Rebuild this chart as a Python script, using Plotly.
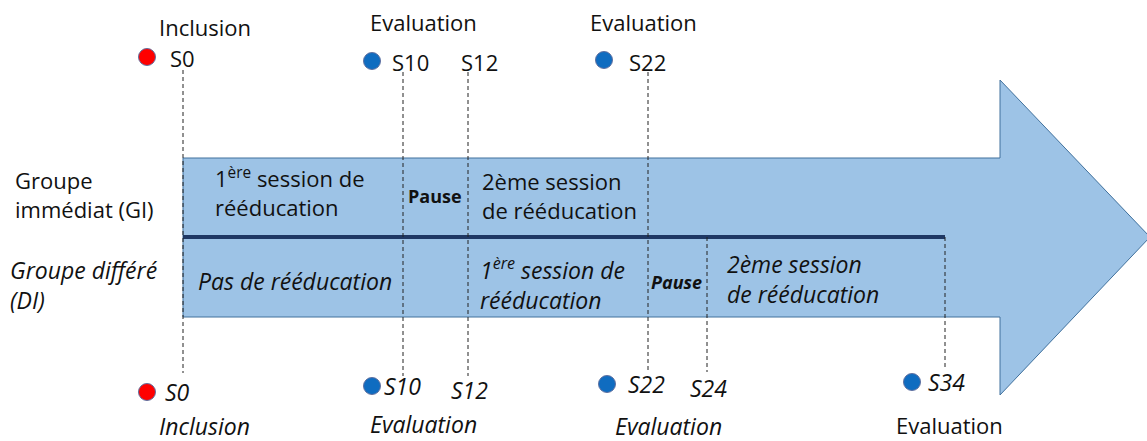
import plotly.graph_objects as go

# ---- data (diagram content) ----
weeks = ["S0", "S10", "S12", "S22", "S24", "S34"]
gi_weeks = ["S0", "S10", "S12", "S22"]
di_weeks = ["S0", "S10", "S12", "S22", "S24", "S34"]
top_events = ["Inclusion", "Evaluation", "Evaluation"]
top_marker_weeks = ["S0", "S10", "S22"]
bottom_marker_weeks = ["S0", "S10", "S22", "S34"]
bottom_events = ["Inclusion", "Evaluation", "Evaluation", "Evaluation"]
group_labels = ["Groupe<br>immédiat (GI)", "<i>Groupe différé<br>(DI)</i>"]

# ---- layout positions (pixel-space diagram) ----
week_x = {"S0": 183, "S10": 403, "S12": 468, "S22": 648, "S24": 707, "S34": 945}
FONT = "Open Sans"
FS = 22
FI = 23
BLUE = "#9DC3E6"
EDGE = "#41719C"
NAVY = "#1F3864"
MBLUE = "#0F6CC0"
RED = "#FF0000"

fig = go.Figure()
shapes = []

# arrow
body_top, body_bot, mid = 158, 317, 237
head_x, head_top, head_bot, tip_x = 1000, 80, 395, 1150
path = (f"M 183 {body_top} L {head_x} {body_top} L {head_x} {head_top} L {tip_x} {mid} "
        f"L {head_x} {head_bot} L {head_x} {body_bot} L 183 {body_bot} Z")
shapes.append(dict(type="path", path=path, fillcolor=BLUE, line=dict(color=EDGE, width=1), layer="below"))
# dividing line
shapes.append(dict(type="line", x0=183, x1=week_x["S34"], y0=mid, y1=mid, line=dict(color=NAVY, width=4)))

# dashed lines
dash_spans = {"S0": (70, 373), "S10": (72, 376), "S12": (72, 376), "S22": (72, 372),
              "S24": (mid, 372), "S34": (mid, 370)}
for w in weeks:
    y0, y1 = dash_spans[w]
    shapes.append(dict(type="line", x0=week_x[w], x1=week_x[w], y0=y0, y1=y1,
                       line=dict(color="#222222", width=1, dash="4px,3px")))

# markers
top_marker_pos = {"S0": (147, 57), "S10": (372, 61), "S22": (604, 60)}
bot_marker_pos = {"S0": (147, 392), "S10": (372, 386), "S22": (607, 384), "S34": (912, 382)}
cols_top = [RED if w == "S0" else MBLUE for w in top_marker_weeks]
cols_bot = [RED if w == "S0" else MBLUE for w in bottom_marker_weeks]
fig.add_trace(go.Scatter(x=[top_marker_pos[w][0] for w in top_marker_weeks],
                         y=[top_marker_pos[w][1] for w in top_marker_weeks],
                         mode="markers", marker=dict(size=17, color=cols_top, line=dict(color="#6070A0", width=1)),
                         hoverinfo="skip", showlegend=False))
fig.add_trace(go.Scatter(x=[bot_marker_pos[w][0] for w in bottom_marker_weeks],
                         y=[bot_marker_pos[w][1] for w in bottom_marker_weeks],
                         mode="markers", marker=dict(size=17, color=cols_bot, line=dict(color="#6070A0", width=1)),
                         hoverinfo="skip", showlegend=False))

ann = []
def T(x, y, text, size=None, xanchor="center", italic=False, bold=False, align="left"):
    if size is None:
        size = FI if italic else FS
    if bold:
        text = f"<b>{text}</b>"
    if italic:
        text = f"<i>{text}</i>"
    ann.append(dict(x=x, y=y, text=text, showarrow=False, xanchor=xanchor, yanchor="middle",
                    align=align, font=dict(family=FONT, size=size, color="#111111")))

# top texts
top_event_pos = [(205, 27), (423, 22), (643, 22)]
for (x, y), t in zip(top_event_pos, top_events):
    T(x, y, t)
top_week_pos = {"S0": (168, 58), "S10": (390, 62), "S12": (459, 62), "S22": (627, 62)}
for w in gi_weeks:
    x, y = top_week_pos[w]
    T(x, y, w, xanchor="left")

# bottom texts
bot_week_pos = {"S0": (163, 392), "S10": (382, 386), "S12": (449, 390), "S22": (626, 384),
                "S24": (688, 388), "S34": (926, 382)}
for w in di_weeks:
    x, y = bot_week_pos[w]
    T(x, y, w, xanchor="left", italic=True)
bot_event_pos = [(204, 426), (423, 424), (668, 426), (949, 425)]
for i, ((x, y), t) in enumerate(zip(bot_event_pos, bottom_events)):
    T(x, y, t, italic=(i < 3))

# group labels
T(13, 194, group_labels[0], xanchor="left")
T(8, 285, group_labels[1], xanchor="left", size=FI)

# inside texts
T(213, 192, "1<sup>ère</sup> session de<br>rééducation", xanchor="left")
T(435, 196, "Pause", size=18, bold=True)
T(480, 195, "2ème session<br>de rééducation", xanchor="left")
T(196, 281, "Pas de rééducation", xanchor="left", italic=True)
T(478, 284, "1<sup>ère</sup> session de<br>rééducation", xanchor="left", italic=True)
T(676, 282, "Pause", size=18, bold=True, italic=True)
T(725, 279, "2ème session<br>de rééducation", xanchor="left", italic=True)

fig.update_layout(
    width=1147, height=441, margin=dict(l=0, r=0, t=0, b=0),
    paper_bgcolor="white", plot_bgcolor="white",
    xaxis=dict(range=[0, 1147], visible=False, fixedrange=True),
    yaxis=dict(range=[441, 0], visible=False, fixedrange=True),
    shapes=shapes, annotations=ann, showlegend=False,
)
fig.write_html("out.html", config={"displayModeBar": False},
               post_script="document.body.style.margin='0';document.body.style.overflow='hidden';")
